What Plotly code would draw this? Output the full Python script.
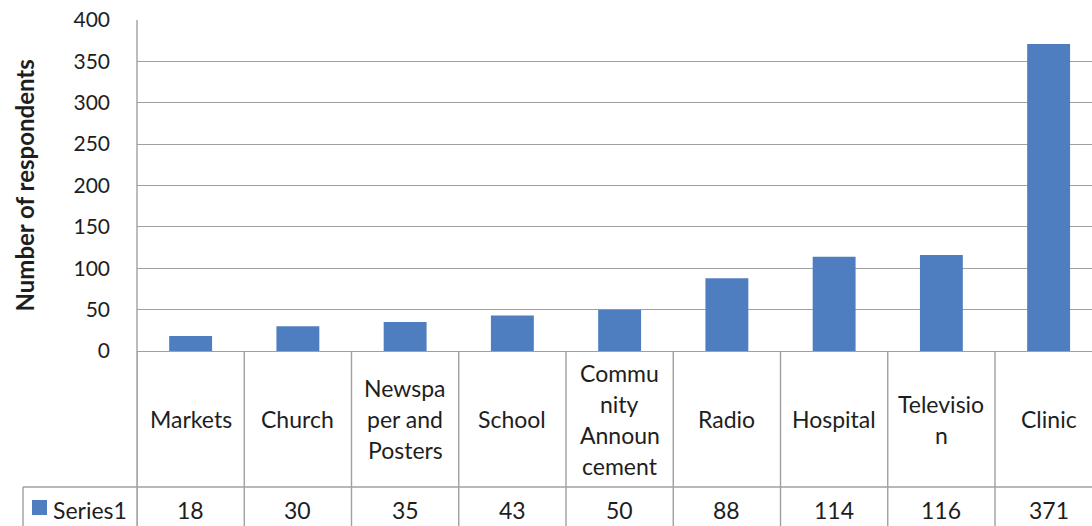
import plotly.graph_objects as go

# Survey data: where respondents heard about the service
categories = ["Markets", "Church", "Newspaper and Posters", "School",
              "Community Announcement", "Radio", "Hospital", "Television", "Clinic"]
table_labels = ["Markets", "Church", "Newspa<br>per and<br>Posters", "School",
                "Commu<br>nity<br>Announ<br>cement", "Radio", "Hospital",
                "Televisio<br>n", "Clinic"]
respondents = [18, 30, 35, 43, 50, 88, 114, 116, 371]
series_name = "Series1"
y_ticks = [0, 50, 100, 150, 200, 250, 300, 350, 400]

BAR = "#4F7EC0"
GRID = "#A0A0A0"
TEXT = "#1E1E1E"
FONT = "Lato"

W, H = 1092, 526
L, R, T, B = 137, 0, 20, 175
plot_h = H - T - B
plot_w = W - L - R


def py(pix):
    """Convert a pixel row in the page to paper y."""
    return (H - B - pix) / plot_h


def px(pix):
    """Convert a pixel column in the page to paper x."""
    return (pix - L) / plot_w


idx = list(range(len(categories)))
col_w = 107.25
x_max = len(categories) - 0.5 - (L + col_w * len(categories) - W) / col_w

fig = go.Figure()
fig.add_trace(go.Bar(
    x=idx, y=respondents, width=0.4, marker=dict(color=BAR, line=dict(width=0)),
    name=series_name, showlegend=False, hoverinfo="skip",
))

row1_top, row1_bot, page_bot = H - B, 487, H
row1_mid = (row1_top + row1_bot) / 2
row2_mid = 510
line_gap = 31
cell_font = dict(family=FONT, size=23, color=TEXT)

shapes = []
# column separators of the data table
for i in range(len(categories) + 1):
    shapes.append(dict(type="line", xref="x", yref="paper",
                       x0=i - 0.5, x1=i - 0.5, y0=py(page_bot + 5), y1=0,
                       line=dict(color=GRID, width=1.4)))
# left border of plot continuing to the table
shapes.append(dict(type="line", xref="paper", yref="paper", x0=0, x1=0,
                   y0=py(page_bot + 5), y1=1, line=dict(color=GRID, width=1.4)))
# separator between label row and value row
shapes.append(dict(type="line", xref="paper", yref="paper", x0=px(23), x1=1,
                   y0=py(row1_bot), y1=py(row1_bot), line=dict(color=GRID, width=1.4)))
# legend cell left border
shapes.append(dict(type="line", xref="paper", yref="paper", x0=px(23), x1=px(23),
                   y0=py(page_bot + 5), y1=py(row1_bot), line=dict(color=GRID, width=1.4)))
# legend key
shapes.append(dict(type="rect", xref="paper", yref="paper", x0=px(32), x1=px(47),
                   y0=py(515), y1=py(500), fillcolor=BAR, line=dict(width=0)))

annotations = []
for i, (lab, v) in enumerate(zip(table_labels, respondents)):
    lines = lab.split("<br>")
    n = len(lines)
    for k, ln in enumerate(lines):
        ypix = row1_mid + (k - (n - 1) / 2) * line_gap
        annotations.append(dict(x=i, y=py(ypix), xref="x", yref="paper", text=ln,
                                showarrow=False, xanchor="center", yanchor="middle",
                                font=cell_font))
    annotations.append(dict(x=i, y=py(row2_mid), xref="x", yref="paper", text=str(v),
                            showarrow=False, xanchor="center", yanchor="middle",
                            font=cell_font))

annotations.append(dict(x=px(51), y=py(row2_mid), xref="paper", yref="paper",
                        text=series_name, showarrow=False, xanchor="left", yanchor="middle",
                        font=cell_font))
annotations.append(dict(x=px(24), y=0.5, xref="paper", yref="paper",
                        text="<b>Number of respondents</b>", textangle=-90,
                        showarrow=False, xanchor="center", yanchor="middle",
                        font=dict(family=FONT, size=24, color=TEXT)))

fig.update_layout(
    width=W, height=H,
    margin=dict(l=L, r=R, t=T, b=B, pad=0),
    paper_bgcolor="white", plot_bgcolor="white",
    bargap=0.6, showlegend=False,
    shapes=shapes, annotations=annotations,
    xaxis=dict(range=[-0.5, x_max], showticklabels=False, ticks="",
               showgrid=False, zeroline=False, showline=True,
               linecolor=GRID, linewidth=1.4, fixedrange=True),
    yaxis=dict(range=[0, 400], tickvals=y_ticks, ticktext=[str(t) for t in y_ticks],
               showgrid=True, gridcolor=GRID, gridwidth=1.4, zeroline=False,
               showline=False, ticks="", ticklabelstandoff=26,
               tickfont=dict(family=FONT, size=21, color=TEXT), fixedrange=True),
)

fig.write_html("out.html", config={"displayModeBar": False})
